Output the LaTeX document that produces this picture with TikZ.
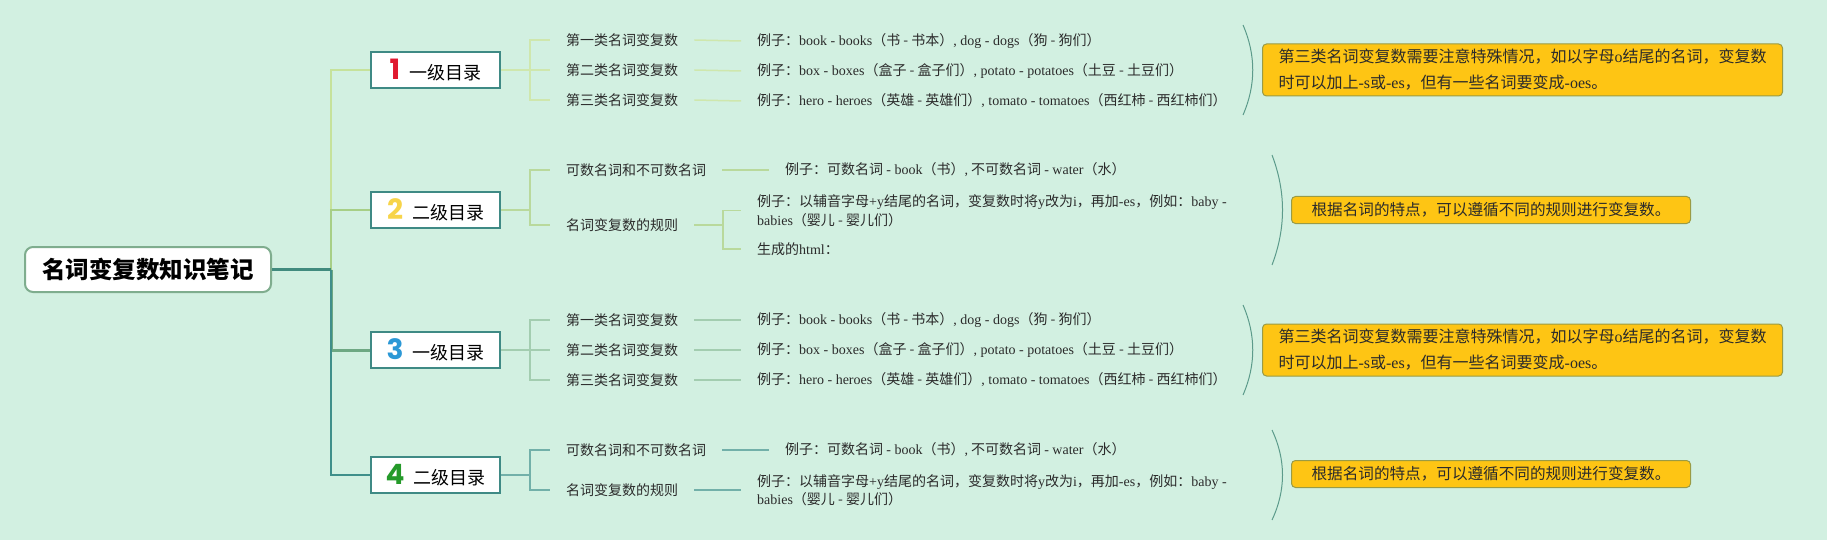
\documentclass[tikz,border=0pt]{standalone}
\usepackage{fontspec}
\setmainfont{Noto Sans CJK SC}
\newfontfamily\latf{Liberation Serif}
\newfontfamily\numf{Poppins}
\newcommand\ltn[1]{{\latf #1}}
\definecolor{bg}{HTML}{D2F0E1}
\definecolor{rootb}{HTML}{7FAD8E}
\definecolor{lvlb}{HTML}{3F8A85}
\definecolor{cA}{HTML}{C6E29B}
\definecolor{cB}{HTML}{A7CF86}
\definecolor{cC}{HTML}{6EA883}
\definecolor{cD}{HTML}{3F8F8A}
\definecolor{rootl}{HTML}{418B7E}
\definecolor{sA}{HTML}{CFE7AD}
\definecolor{sB}{HTML}{B9D99C}
\definecolor{sC}{HTML}{A3CDB0}
\definecolor{sD}{HTML}{72B0A9}
\definecolor{brc}{HTML}{5C9B8B}
\definecolor{notef}{HTML}{FEC514}
\definecolor{noteb}{HTML}{9A9B45}
\definecolor{txt}{HTML}{2B2B2B}
\definecolor{nA}{HTML}{E0192F}
\definecolor{nB}{HTML}{F7D449}
\definecolor{nC}{HTML}{2B98D6}
\definecolor{nD}{HTML}{259A2A}
\tikzset{
  rootbox/.style={draw=rootb, line width=2pt, fill=white, rounded corners=8pt,
    minimum width=246pt, minimum height=45pt, inner sep=0pt,
    font=\bfseries\fontsize{23.5}{28}\selectfont, text=black},
  lvlbox/.style={draw=lvlb, line width=2.2pt, fill=white, minimum width=129pt,
    minimum height=36pt, inner sep=0pt, font=\fontsize{18}{22}\selectfont, text=black},
  itembox/.style={anchor=west, inner xsep=16pt, inner ysep=3pt,
    font=\fontsize{14}{17}\selectfont, text=txt},
  exbox/.style={anchor=west, inner xsep=16pt, inner ysep=3pt,
    font=\fontsize{14}{18.5}\selectfont, align=left, text=txt},
  notebox/.style={draw=noteb, line width=1pt, fill=notef, rounded corners=4pt,
    anchor=west, inner ysep=0pt, align=left, text=txt},
  brline/.style={draw=brc, line width=1pt},
}
\newcommand\numtag[2]{{\numf\bfseries\fontsize{28}{28}\selectfont\color{#1}#2}\hspace{9pt}}
\begin{document}
\begin{tikzpicture}[x=1pt,y=-1pt]
\fill[bg] (0,0) rectangle (1827,540);
\useasboundingbox (0,0) rectangle (1827,540);

% root and level-1 nodes
\node[rootbox] (root) at (148,269.5) {名词变复数知识笔记};
\node[lvlbox] (b1) at (435.5,70)  {\numtag{nA}{1}一级目录};
\node[lvlbox] (b2) at (435.5,210) {\numtag{nB}{2}二级目录};
\node[lvlbox] (b3) at (435.5,350) {\numtag{nC}{3}一级目录};
\node[lvlbox] (b4) at (435.5,475) {\numtag{nD}{4}二级目录};

\coordinate (t) at (331,269.5);
\draw[cA, line width=1.5pt] (t) |- (b1.west);
\draw[cB, line width=1.5pt] (t) |- (b2.west);
\draw[cC, line width=3pt] (t) |- (b3.west);
\draw[cD, line width=2pt] (t) |- (b4.west);
\draw[rootl, line width=3pt] (root.east) -- (t);

% ---------- section 1 ----------
\coordinate (s1) at (530,70);
\node[itembox] (i11) at (550,40)  {第一类名词变复数};
\node[itembox] (i12) at (550,70)  {第二类名词变复数};
\node[itembox] (i13) at (550,100) {第三类名词变复数};
\node[exbox] (e11) at (741,41) {例子：\ltn{book - books}（书 - 书本）\ltn{, dog - dogs}（狗 - 狗们）};
\node[exbox] (e12) at (741,71) {例子：\ltn{box - boxes}（盒子 - 盒子们）\ltn{, potato - potatoes}（土豆 - 土豆们）};
\node[exbox] (e13) at (741,101) {例子：\ltn{hero - heroes}（英雄 - 英雄们）\ltn{, tomato - tomatoes}（西红柿 - 西红柿们）};
\begin{scope}[sA, line width=1.5pt]
\draw (b1.east) -- (s1);
\draw (s1) |- (i11.west);
\draw (s1) -- (i12.west);
\draw (s1) |- (i13.west);
\draw (i11.east) -- (e11.west);
\draw (i12.east) -- (e12.west);
\draw (i13.east) -- (e13.west);
\end{scope}
\node[notebox, inner xsep=16pt, text width=488pt, minimum height=52pt,
  font=\fontsize{16}{26}\selectfont] (n1) at (1262,70)
  {第三类名词变复数需要注意特殊情况，如以字母\ltn{o}结尾的名词，变复数\\时可以加上\ltn{-s}或\ltn{-es}，但有一些名词要变成\ltn{-oes}。};
\draw[brline] (1243,25) .. controls (1256,55) and (1256,85) .. (1243,115);

% ---------- section 2 ----------
\coordinate (s2) at (530,210);
\node[itembox] (i21) at (550,170) {可数名词和不可数名词};
\node[itembox] (i22) at (550,225) {名词变复数的规则};
\node[exbox] (e21) at (769,170) {例子：可数名词 \ltn{- book}（书）\ltn{,} 不可数名词 \ltn{- water}（水）};
\coordinate (s22) at (723,225);
\node[exbox] (e22) at (741,210.5) {例子：以辅音字母\ltn{+y}结尾的名词，变复数时将\ltn{y}改为\ltn{i}，再加\ltn{-es}，例如：\ltn{baby -}\\\ltn{babies}（婴儿 - 婴儿们）};
\node[exbox] (e23) at (741,249) {生成的\ltn{html}：};
\begin{scope}[sB, line width=1.5pt]
\draw (b2.east) -- (s2);
\draw (s2) |- (i21.west);
\draw (s2) |- (i22.west);
\draw (i21.east) -- (e21.west);
\draw (i22.east) -- (s22);
\draw (s22) |- (e22.west);
\draw (s22) |- (e23.west);
\end{scope}
\node[notebox, inner xsep=17pt, minimum width=399pt, minimum height=27pt,
  font=\fontsize{15.6}{20}\selectfont] (n2) at (1291,210)
  {根据名词的特点，可以遵循不同的规则进行变复数。};
\draw[brline] (1272,155) .. controls (1286,192) and (1286,228) .. (1272,265);

% ---------- section 3 ----------
\coordinate (s3) at (530,350);
\node[itembox] (i31) at (550,320) {第一类名词变复数};
\node[itembox] (i32) at (550,350) {第二类名词变复数};
\node[itembox] (i33) at (550,380) {第三类名词变复数};
\node[exbox] (e31) at (741,320) {例子：\ltn{book - books}（书 - 书本）\ltn{, dog - dogs}（狗 - 狗们）};
\node[exbox] (e32) at (741,350) {例子：\ltn{box - boxes}（盒子 - 盒子们）\ltn{, potato - potatoes}（土豆 - 土豆们）};
\node[exbox] (e33) at (741,380) {例子：\ltn{hero - heroes}（英雄 - 英雄们）\ltn{, tomato - tomatoes}（西红柿 - 西红柿们）};
\begin{scope}[sC, line width=1.5pt]
\draw (b3.east) -- (s3);
\draw (s3) |- (i31.west);
\draw (s3) -- (i32.west);
\draw (s3) |- (i33.west);
\draw (i31.east) -- (e31.west);
\draw (i32.east) -- (e32.west);
\draw (i33.east) -- (e33.west);
\end{scope}
\node[notebox, inner xsep=16pt, text width=488pt, minimum height=52pt,
  font=\fontsize{16}{26}\selectfont] (n3) at (1262,350)
  {第三类名词变复数需要注意特殊情况，如以字母\ltn{o}结尾的名词，变复数\\时可以加上\ltn{-s}或\ltn{-es}，但有一些名词要变成\ltn{-oes}。};
\draw[brline] (1243,305) .. controls (1256,335) and (1256,365) .. (1243,395);

% ---------- section 4 ----------
\coordinate (s4) at (530,475);
\node[itembox] (i41) at (550,450) {可数名词和不可数名词};
\node[itembox] (i42) at (550,490) {名词变复数的规则};
\node[exbox] (e41) at (769,450) {例子：可数名词 \ltn{- book}（书）\ltn{,} 不可数名词 \ltn{- water}（水）};
\node[exbox] (e42) at (741,490) {例子：以辅音字母\ltn{+y}结尾的名词，变复数时将\ltn{y}改为\ltn{i}，再加\ltn{-es}，例如：\ltn{baby -}\\\ltn{babies}（婴儿 - 婴儿们）};
\begin{scope}[sD, line width=1.5pt]
\draw (b4.east) -- (s4);
\draw (s4) |- (i41.west);
\draw (s4) |- (i42.west);
\draw (i41.east) -- (e41.west);
\draw (i42.east) -- (e42.west);
\end{scope}
\node[notebox, inner xsep=17pt, minimum width=399pt, minimum height=27pt,
  font=\fontsize{15.6}{20}\selectfont] (n4) at (1291,474)
  {根据名词的特点，可以遵循不同的规则进行变复数。};
\draw[brline] (1272,430) .. controls (1286,460) and (1286,490) .. (1272,520);
\end{tikzpicture}
\end{document}
